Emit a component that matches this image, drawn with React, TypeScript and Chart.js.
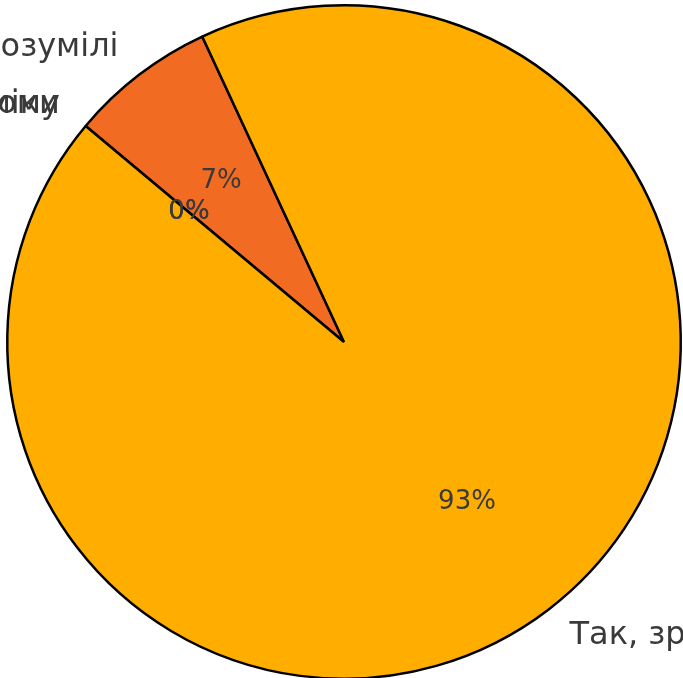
import React, { useEffect, useRef } from "react";
import { Chart, registerables } from "chart.js";

Chart.register(...registerables);

const categories = [
  "Так, зрозумілі",
  "Частково зрозумілі",
  "Не розумію економіки",
  "Важко відповісти, не знаю чому",
];
const values = [93, 7, 0, 0];
const colors = ["#FFAE00", "#F26B23", "#E8452A", "#C0392B"];

const SIZE = 1000;
const CX = 344;
const CY = 342;

const labelPlugin = {
  id: "pieLabels",
  afterDatasetsDraw(chart: any) {
    const ctx = chart.ctx;
    const meta = chart.getDatasetMeta(0);
    const data = chart.data.datasets[0].data as number[];
    const labels = chart.data.labels as string[];
    const total = data.reduce((a, b) => a + b, 0);
    ctx.save();
    ctx.fillStyle = "#3a3a3a";
    ctx.textBaseline = "middle";
    meta.data.forEach((arc: any, i: number) => {
      const p = arc.getProps(["x", "y", "startAngle", "endAngle", "outerRadius"], true);
      const mid = (p.startAngle + p.endAngle) / 2;
      const r = p.outerRadius;
      ctx.font = "26px 'DejaVu Sans'";
      ctx.textAlign = "center";
      const pct = Math.round((data[i] / total) * 100) + "%";
      ctx.fillText(pct, p.x + Math.cos(mid) * r * 0.6, p.y + Math.sin(mid) * r * 0.6);
      ctx.font = "32px 'DejaVu Sans'";
      const lx = p.x + Math.cos(mid) * r * 1.1;
      const ly = p.y + Math.sin(mid) * r * 1.1;
      ctx.textAlign = lx > p.x ? "left" : "right";
      ctx.fillText(labels[i], lx, ly);
    });
    ctx.restore();
  },
};

export default function App() {
  const ref = useRef<HTMLCanvasElement>(null);
  useEffect(() => {
    if (!ref.current) return;
    const order = [3, 2, 1, 0];
    const chart = new Chart(ref.current, {
      type: "pie",
      data: {
        labels: order.map((i) => categories[i]),
        datasets: [
          {
            data: order.map((i) => values[i]),
            backgroundColor: order.map((i) => colors[i]),
            borderColor: "#000000",
            borderWidth: 2.5,
            hoverOffset: 0,
          },
        ],
      },
      options: {
        responsive: false,
        animation: false,
        rotation: -50.1,
        layout: { padding: 162 },
        plugins: {
          legend: { display: false },
          tooltip: { enabled: false },
        },
        events: [],
      },
      plugins: [labelPlugin],
    });
    return () => chart.destroy();
  }, []);
  return (
    <div
      style={{
        position: "fixed",
        left: 0,
        top: 0,
        width: 683,
        height: 678,
        overflow: "hidden",
        background: "#ffffff",
      }}
    >
      <canvas
        ref={ref}
        width={SIZE}
        height={SIZE}
        style={{
          position: "absolute",
          left: CX - SIZE / 2,
          top: CY - SIZE / 2,
          width: SIZE,
          height: SIZE,
        }}
      />
    </div>
  );
}
